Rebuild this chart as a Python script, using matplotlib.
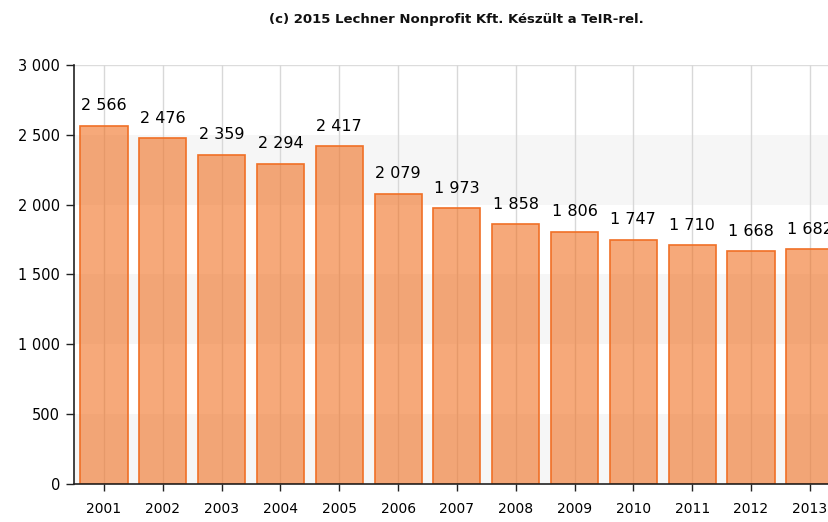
import matplotlib
matplotlib.use("Agg")
import matplotlib.pyplot as plt
from matplotlib.ticker import FuncFormatter

years = ["2001", "2002", "2003", "2004", "2005", "2006", "2007",
         "2008", "2009", "2010", "2011", "2012", "2013"]
values = [2566, 2476, 2359, 2294, 2417, 2079, 1973, 1858, 1806, 1747, 1710, 1668, 1682]
title = "(c) 2015 Lechner Nonprofit Kft. Készült a TeIR-rel."

def fmt(v):
    return f"{int(v):,}".replace(",", " ")

fig = plt.figure(figsize=(8.29, 5.22), dpi=100)
ax = fig.add_axes([0.0893, 0.0728, 0.923, 0.8027])

# alternating bands
for lo in range(0, 3000, 1000):
    ax.axhspan(lo, lo + 500, color="#f6f6f6", zorder=0, lw=0)
ax.axhline(3000, color="#dcdcdc", lw=1, zorder=0.5)

x = list(range(len(years)))
for xi in x:
    ax.axvline(xi, color="#d8d8d8", lw=1, zorder=0.5)

ax.bar(x, values, width=0.8, color=(0.94, 0.44, 0.13, 0.6),
       edgecolor="#f07026", linewidth=1.2, zorder=2)

for xi, v in zip(x, values):
    ax.annotate(fmt(v), (xi, v), xytext=(0, 9), textcoords="offset points",
                ha="center", va="bottom", fontsize=11.5, color="#000000")

ax.set_xlim(-0.51, 12.5)
ax.set_ylim(0, 3000)
ax.set_yticks(range(0, 3001, 500))
ax.yaxis.set_major_formatter(FuncFormatter(lambda v, p: fmt(v)))
ax.set_xticks(x)
ax.set_xticklabels(years)
ax.tick_params(axis="y", length=6, width=1, color="#222222", labelsize=10.5,
               labelcolor="#000000", pad=4)
ax.tick_params(axis="x", length=5, width=1, color="#222222", labelsize=10,
               labelcolor="#000000", pad=8)

for s in ["top", "right"]:
    ax.spines[s].set_visible(False)
for s in ["left", "bottom"]:
    ax.spines[s].set_color("#222222")
    ax.spines[s].set_linewidth(1.2)

ax.set_title(title, fontsize=9.5, fontweight="bold", pad=30, color="#111111")

fig.savefig("out.png", dpi=100)
